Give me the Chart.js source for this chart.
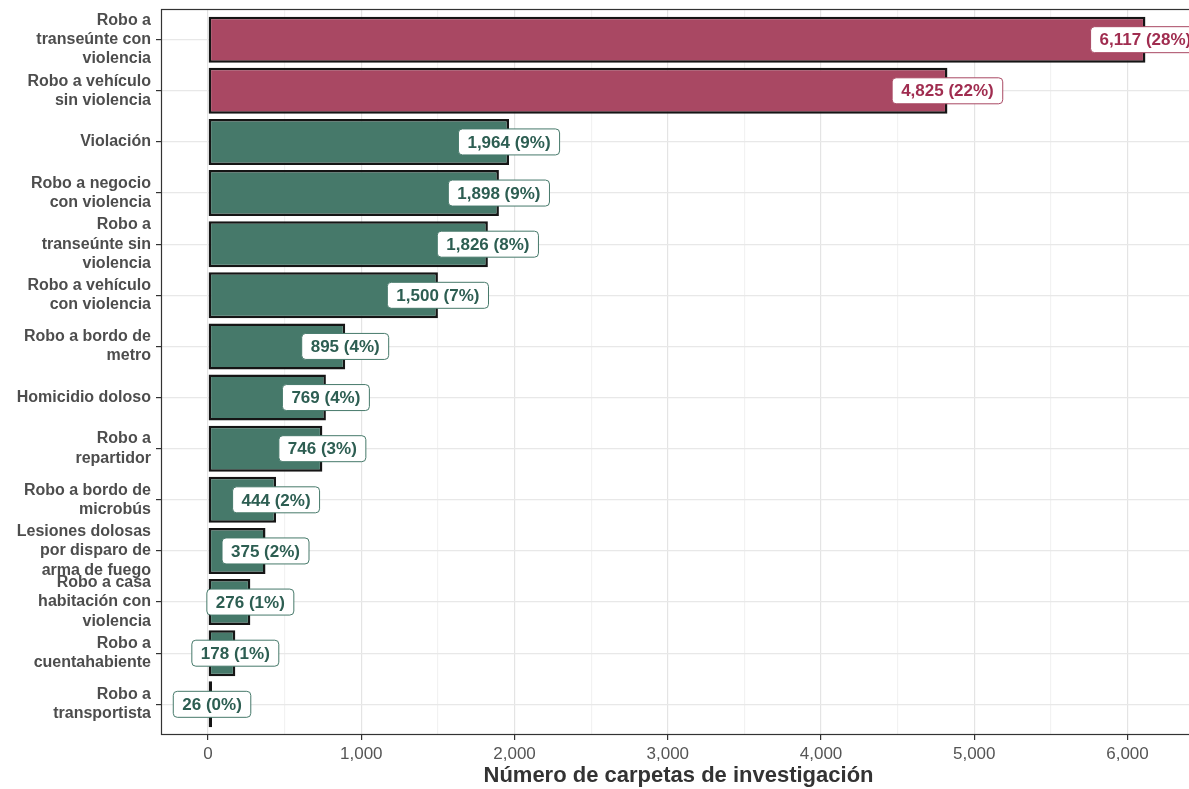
<!DOCTYPE html>
<html lang="es">
<head>
<meta charset="utf-8">
<title>Carpetas de investigación por delito</title>
<script src="https://cdn.jsdelivr.net/npm/chart.js@4.4.1/dist/chart.umd.min.js"></script>
<style>
  html, body { margin: 0; padding: 0; background: #fff; overflow: hidden; }
</style>
</head>
<body>
<canvas id="grafica" width="1200" height="789"></canvas>
<script>
// Delitos, de mayor a menor
const categorias = [
  'Robo a\ntranseúnte con\nviolencia',
  'Robo a vehículo\nsin violencia',
  'Violación',
  'Robo a negocio\ncon violencia',
  'Robo a\ntranseúnte sin\nviolencia',
  'Robo a vehículo\ncon violencia',
  'Robo a bordo de\nmetro',
  'Homicidio doloso',
  'Robo a\nrepartidor',
  'Robo a bordo de\nmicrobús',
  'Lesiones dolosas\npor disparo de\narma de fuego',
  'Robo a casa\nhabitación con\nviolencia',
  'Robo a\ncuentahabiente',
  'Robo a\ntransportista'
];
const carpetas = [6117, 4825, 1964, 1898, 1826, 1500, 895, 769, 746, 444, 375, 276, 178, 26];
const porcentajes = [28, 22, 9, 9, 8, 7, 4, 4, 3, 2, 2, 1, 1, 0];
const destacado = [true, true, false, false, false, false, false, false, false, false, false, false, false, false];
const ticksX = [0, 500, 1000, 1500, 2000, 2500, 3000, 3500, 4000, 4500, 5000, 5500, 6000];

const FUENTE = "'Liberation Sans', Arial, sans-serif";
const ROJO = '#a94863', VERDE = '#46796a';
const ROJO_TXT = '#a02d50', VERDE_TXT = '#2d5e52';

// recuadro del panel (estilo theme_bw)
const marco = {
  id: 'marco',
  afterDraw(chart) {
    const { left, top, right, bottom } = chart.chartArea;
    const ctx = chart.ctx;
    ctx.save();
    ctx.strokeStyle = '#333';
    ctx.lineWidth = 1.2;
    ctx.strokeRect(left + 0.5, top + 0.5, right - left - 1, bottom - top - 1);
    ctx.restore();
  }
};

// etiquetas con recuadro al final de cada barra
const etiquetas = {
  id: 'etiquetas',
  afterDatasetsDraw(chart) {
    const ctx = chart.ctx;
    const meta = chart.getDatasetMeta(0);
    ctx.save();
    ctx.font = 'bold 17px ' + FUENTE;
    ctx.textAlign = 'center';
    ctx.textBaseline = 'middle';
    meta.data.forEach((bar, i) => {
      const texto = carpetas[i].toLocaleString('en-US') + ' (' + porcentajes[i] + '%)';
      const w = ctx.measureText(texto).width + 18;
      const h = 26;
      ctx.beginPath();
      ctx.roundRect(bar.x - w / 2, bar.y - h / 2, w, h, 4);
      ctx.fillStyle = '#fff';
      ctx.fill();
      ctx.lineWidth = 1;
      ctx.strokeStyle = destacado[i] ? ROJO : VERDE;
      ctx.stroke();
      ctx.fillStyle = destacado[i] ? ROJO_TXT : VERDE_TXT;
      ctx.fillText(texto, bar.x, bar.y + 1);
    });
    ctx.restore();
  }
};

new Chart(document.getElementById('grafica'), {
  type: 'bar',
  data: {
    datasets: [{
      data: carpetas.map((v, i) => ({ x: v, y: i })),
      backgroundColor: destacado.map(d => d ? ROJO : VERDE),
      borderColor: '#151515',
      borderWidth: 2.5,
      borderSkipped: false,
      barPercentage: 0.9,
      categoryPercentage: 1
    }]
  },
  options: {
    indexAxis: 'y',
    responsive: false,
    devicePixelRatio: 1,
    animation: false,
    layout: { padding: { top: 9, right: 4, left: 0, bottom: 0 } },
    plugins: { legend: { display: false }, tooltip: { enabled: false } },
    scales: {
      x: {
        type: 'linear',
        min: -307,
        max: 6447,
        afterBuildTicks: s => { s.ticks = ticksX.map(v => ({ value: v })); },
        afterFit: s => { s.height = 54; s.paddingLeft = 0; s.paddingRight = 0; },
        border: { display: false },
        grid: {
          color: c => (c.tick && c.tick.value % 1000 === 0) ? '#e4e4e4' : '#f2f2f2',
          tickColor: c => (c.tick && c.tick.value % 1000 === 0) ? '#333' : 'rgba(0,0,0,0)',
          tickLength: 5,
          lineWidth: 1.2
        },
        ticks: {
          callback: v => v % 1000 === 0 ? v.toLocaleString('en-US') : '',
          autoSkip: false,
          maxRotation: 0,
          padding: 4,
          color: '#555',
          font: { family: FUENTE, size: 17 }
        },
        title: {
          display: true,
          text: 'Número de carpetas de investigación',
          color: '#333',
          padding: 0,
          font: { family: FUENTE, size: 22, weight: 'bold' }
        }
      },
      y: {
        type: 'linear',
        reverse: true,
        offset: false,
        min: -0.6,
        max: 13.6,
        afterBuildTicks: s => { s.ticks = categorias.map((c, i) => ({ value: i })); },
        afterFit: s => { s.width = 161; s.paddingTop = 0; s.paddingBottom = 0; },
        border: { display: false },
        grid: { offset: false, color: '#e8e8e8', tickColor: '#333', tickLength: 5, lineWidth: 1.2 },
        ticks: {
          callback: v => categorias[v] ? categorias[v].split('\n') : '',
          autoSkip: false,
          padding: 5,
          color: '#4d4d4d',
          font: { family: FUENTE, size: 16, weight: 'bold', lineHeight: 1.2 }
        }
      }
    }
  },
  plugins: [etiquetas, marco]
});
</script>
</body>
</html>
